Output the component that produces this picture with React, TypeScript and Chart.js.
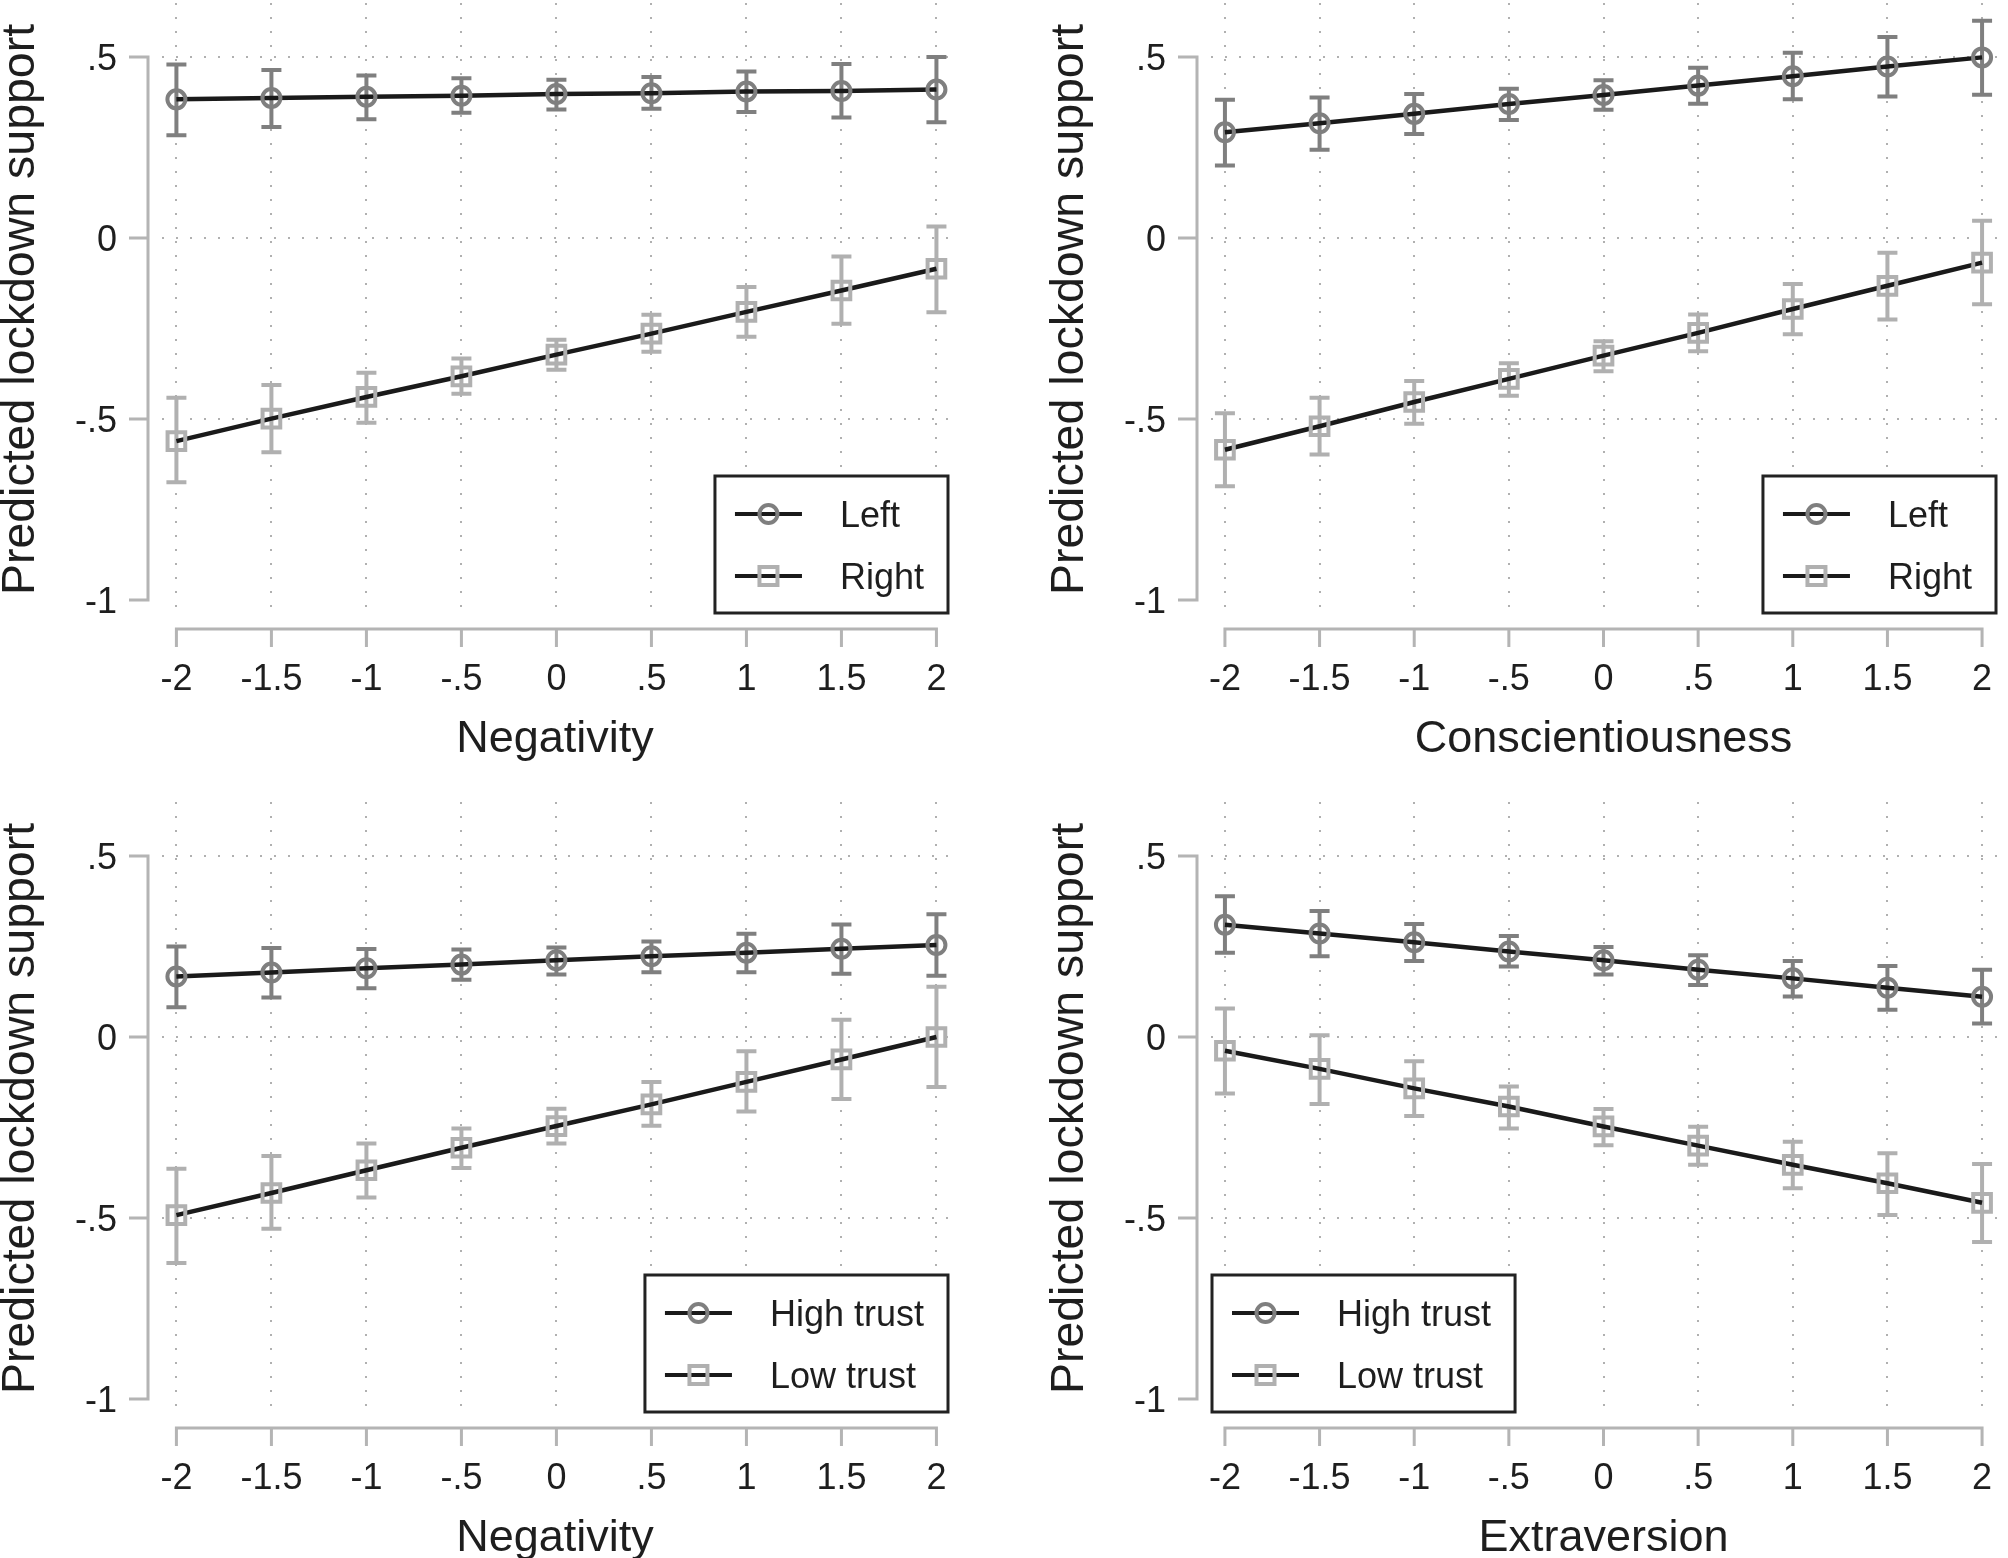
import { useEffect, useRef } from 'react';
import { Chart, registerables } from 'chart.js';

Chart.register(...registerables);

// shared axes
const xValues = [-2, -1.5, -1, -0.5, 0, 0.5, 1, 1.5, 2];
const yTicks = [0.5, 0, -0.5, -1];
const yGridTicks = [0.5, 0, -0.5];

// Negativity x ideology
const negLeft = [0.383, 0.387, 0.39, 0.393, 0.398, 0.4, 0.405, 0.406, 0.41];
const negLeftLo = [0.284, 0.307, 0.328, 0.346, 0.355, 0.357, 0.348, 0.333, 0.32];
const negLeftHi = [0.479, 0.464, 0.449, 0.441, 0.437, 0.445, 0.46, 0.481, 0.5];
const negRight = [-0.561, -0.499, -0.439, -0.382, -0.322, -0.264, -0.204, -0.145, -0.085];
const negRightLo = [-0.675, -0.592, -0.51, -0.43, -0.364, -0.314, -0.273, -0.237, -0.205];
const negRightHi = [-0.441, -0.406, -0.372, -0.333, -0.281, -0.212, -0.135, -0.051, 0.032];

// Conscientiousness x ideology
const conLeft = [0.292, 0.317, 0.343, 0.37, 0.395, 0.421, 0.447, 0.474, 0.499];
const conLeftLo = [0.2, 0.244, 0.287, 0.326, 0.354, 0.371, 0.383, 0.391, 0.396];
const conLeftHi = [0.382, 0.388, 0.398, 0.412, 0.436, 0.47, 0.512, 0.555, 0.6];
const conRight = [-0.585, -0.52, -0.453, -0.389, -0.325, -0.262, -0.196, -0.132, -0.068];
const conRightLo = [-0.686, -0.598, -0.513, -0.436, -0.368, -0.313, -0.266, -0.225, -0.183];
const conRightHi = [-0.484, -0.441, -0.395, -0.346, -0.285, -0.211, -0.127, -0.041, 0.048];

// Negativity x trust
const negHigh = [0.167, 0.178, 0.19, 0.2, 0.212, 0.223, 0.233, 0.244, 0.254];
const negHighLo = [0.082, 0.109, 0.135, 0.158, 0.173, 0.179, 0.179, 0.175, 0.169];
const negHighHi = [0.25, 0.246, 0.243, 0.242, 0.247, 0.264, 0.285, 0.311, 0.339];
const negLow = [-0.492, -0.431, -0.368, -0.306, -0.246, -0.186, -0.124, -0.062, 0.0];
const negLowLo = [-0.624, -0.53, -0.443, -0.362, -0.294, -0.245, -0.206, -0.171, -0.138];
const negLowHi = [-0.364, -0.329, -0.294, -0.253, -0.198, -0.124, -0.039, 0.048, 0.139];

// Extraversion x trust
const extHigh = [0.31, 0.286, 0.262, 0.236, 0.212, 0.186, 0.162, 0.136, 0.111];
const extHighLo = [0.233, 0.223, 0.21, 0.195, 0.173, 0.144, 0.112, 0.075, 0.037];
const extHighHi = [0.389, 0.348, 0.312, 0.279, 0.249, 0.226, 0.21, 0.196, 0.186];
const extLow = [-0.038, -0.088, -0.142, -0.192, -0.247, -0.3, -0.353, -0.404, -0.458];
const extLowLo = [-0.156, -0.185, -0.218, -0.253, -0.299, -0.353, -0.418, -0.492, -0.566];
const extLowHi = [0.079, 0.005, -0.067, -0.137, -0.199, -0.248, -0.289, -0.321, -0.351];

const ideologyLabels = ['Left', 'Right'];
const trustLabels = ['High trust', 'Low trust'];
const yTitle = 'Predicted lockdown support';

const FONT = '"Liberation Sans", Arial, sans-serif';
const TEXT = '#1e1e1e';
const AXIS = '#b4b4b4';
const GRID = '#b0b0b0';
const LINE = '#1a1a1a';
const DARK = '#7f7f7f';
const LIGHT = '#b0b0b0';

const fmt = (v: number) => (v === 0 ? '0' : String(v).replace('0.', '.'));

const stataPlugin = {
  id: 'stata',
  beforeDatasetsDraw(chart: any) {
    const { ctx, chartArea: a } = chart;
    const { x, y } = chart.scales;
    ctx.save();
    // dotted grid
    ctx.strokeStyle = GRID;
    ctx.lineWidth = 2;
    ctx.setLineDash([2, 12]);
    xValues.forEach((v) => {
      const px = Math.round(x.getPixelForValue(v));
      ctx.beginPath();
      ctx.moveTo(px, a.top + 3);
      ctx.lineTo(px, a.bottom);
      ctx.stroke();
    });
    yGridTicks.forEach((v) => {
      const py = Math.round(y.getPixelForValue(v));
      ctx.beginPath();
      ctx.moveTo(a.left + 12, py);
      ctx.lineTo(a.right, py);
      ctx.stroke();
    });
    ctx.setLineDash([]);
    // error bars (rcap)
    chart.data.datasets.forEach((ds: any) => {
      ctx.strokeStyle = ds.pointBorderColor;
      ctx.lineWidth = 4;
      ds.data.forEach((pt: any, i: number) => {
        const px = x.getPixelForValue(pt.x);
        const lo = y.getPixelForValue(ds.errLow[i]);
        const hi = y.getPixelForValue(ds.errHigh[i]);
        ctx.beginPath();
        ctx.moveTo(px, lo);
        ctx.lineTo(px, hi);
        ctx.moveTo(px - 10, lo);
        ctx.lineTo(px + 10, lo);
        ctx.moveTo(px - 10, hi);
        ctx.lineTo(px + 10, hi);
        ctx.stroke();
      });
    });
    ctx.restore();
  },
  afterDraw(chart: any, _args: any, opts: any) {
    const { ctx, chartArea: a } = chart;
    const { x, y } = chart.scales;
    ctx.save();

    // y axis
    const ax = a.left - 2;
    ctx.strokeStyle = AXIS;
    ctx.lineWidth = 3;
    ctx.beginPath();
    ctx.moveTo(ax, y.getPixelForValue(yTicks[0]));
    ctx.lineTo(ax, y.getPixelForValue(yTicks[yTicks.length - 1]));
    yTicks.forEach((v) => {
      const py = y.getPixelForValue(v);
      ctx.moveTo(ax - 19, py);
      ctx.lineTo(ax + 1.5, py);
    });
    ctx.stroke();

    // x axis, offset below the plot region
    const ay = a.bottom + 14;
    ctx.beginPath();
    ctx.moveTo(x.getPixelForValue(xValues[0]), ay);
    ctx.lineTo(x.getPixelForValue(xValues[xValues.length - 1]), ay);
    xValues.forEach((v) => {
      const px = x.getPixelForValue(v);
      ctx.moveTo(px, ay - 1.5);
      ctx.lineTo(px, ay + 18);
    });
    ctx.stroke();

    // tick labels
    ctx.fillStyle = TEXT;
    ctx.font = `36px ${FONT}`;
    ctx.textAlign = 'right';
    ctx.textBaseline = 'middle';
    yTicks.forEach((v) => ctx.fillText(fmt(v), ax - 31, y.getPixelForValue(v) + 3));
    ctx.textAlign = 'center';
    ctx.textBaseline = 'alphabetic';
    xValues.forEach((v) => ctx.fillText(fmt(v), x.getPixelForValue(v), a.bottom + 75));

    // axis titles
    ctx.font = `45px ${FONT}`;
    ctx.fillText(opts.xTitle, (a.left + a.right) / 2, a.bottom + 137);
    ctx.save();
    ctx.font = `46.5px ${FONT}`;
    ctx.translate(34, (a.top + a.bottom) / 2 + 2);
    ctx.rotate(-Math.PI / 2);
    ctx.fillText(yTitle, 0, 0);
    ctx.restore();

    // legend box
    ctx.font = `36px ${FONT}`;
    const labels = chart.data.datasets.map((d: any) => d.label);
    const textW = Math.max(...labels.map((l: string) => ctx.measureText(l).width));
    const boxW = 20 + 67 + 38 + textW + 24;
    const boxH = 137;
    const boxTop = a.bottom - 139;
    const boxLeft = opts.legendSide === 'left' ? a.left + 13 : a.right - 12 - boxW;
    ctx.fillStyle = '#ffffff';
    ctx.fillRect(boxLeft, boxTop, boxW, boxH);
    ctx.strokeStyle = '#222222';
    ctx.lineWidth = 3;
    ctx.strokeRect(boxLeft, boxTop, boxW, boxH);
    chart.data.datasets.forEach((ds: any, i: number) => {
      const ry = boxTop + 38 + i * 62;
      const lx = boxLeft + 20;
      ctx.strokeStyle = LINE;
      ctx.lineWidth = 4;
      ctx.beginPath();
      ctx.moveTo(lx, ry);
      ctx.lineTo(lx + 67, ry);
      ctx.stroke();
      ctx.strokeStyle = ds.pointBorderColor;
      ctx.beginPath();
      if (ds.pointStyle === 'rect') {
        ctx.rect(lx + 33.5 - 9, ry - 9, 18, 18);
      } else {
        ctx.arc(lx + 33.5, ry, 9, 0, Math.PI * 2);
      }
      ctx.stroke();
      ctx.fillStyle = TEXT;
      ctx.textAlign = 'left';
      ctx.textBaseline = 'middle';
      ctx.fillText(ds.label, lx + 67 + 38, ry + 3);
    });

    ctx.restore();
  },
};

function series(label: string, mid: number[], lo: number[], hi: number[], square: boolean) {
  return {
    label,
    data: xValues.map((v, i) => ({ x: v, y: mid[i] })),
    errLow: lo,
    errHigh: hi,
    borderColor: LINE,
    borderWidth: 4.5,
    pointStyle: square ? 'rect' : 'circle',
    pointRadius: square ? 12.5 : 9,
    pointBorderWidth: 4,
    pointBorderColor: square ? LIGHT : DARK,
    pointBackgroundColor: 'rgba(0,0,0,0)',
    tension: 0,
    clip: false,
  };
}

interface PanelProps {
  left: number;
  top: number;
  width: number;
  height: number;
  xMin: number;
  xMax: number;
  xTitle: string;
  legendSide: 'left' | 'right';
  datasets: any[];
}

function Panel({ left, top, width, height, xMin, xMax, xTitle, legendSide, datasets }: PanelProps) {
  const canvasRef = useRef<HTMLCanvasElement>(null);

  useEffect(() => {
    if (!canvasRef.current) return;
    const plotWidth = width > 1000 ? 810 : 809;
    const chart = new Chart(canvasRef.current, {
      type: 'line',
      data: { datasets },
      options: {
        responsive: false,
        devicePixelRatio: 1,
        animation: false,
        events: [],
        layout: {
          autoPadding: false,
          padding: { left: 150, top: 0, right: width - 150 - plotWidth, bottom: height - 615 },
        },
        scales: {
          x: { type: 'linear', display: false, min: xMin, max: xMax },
          y: { type: 'linear', display: false, min: -1.0414, max: 0.6575 },
        },
        plugins: {
          legend: { display: false },
          tooltip: { enabled: false },
          stata: { xTitle, legendSide },
        } as any,
      },
      plugins: [stataPlugin],
    });
    return () => chart.destroy();
  }, []);

  return (
    <canvas
      ref={canvasRef}
      width={width}
      height={height}
      style={{ position: 'absolute', left, top, width, height, display: 'block' }}
    />
  );
}

export default function App() {
  return (
    <div
      style={{
        position: 'absolute',
        left: 0,
        top: 0,
        width: 2008,
        height: 1558,
        overflow: 'hidden',
        background: '#ffffff',
      }}
    >
      <Panel
        left={0}
        top={0}
        width={1049}
        height={799}
        xMin={-2.139}
        xMax={2.124}
        xTitle="Negativity"
        legendSide="right"
        datasets={[
          series(ideologyLabels[0], negLeft, negLeftLo, negLeftHi, false),
          series(ideologyLabels[1], negRight, negRightLo, negRightHi, true),
        ]}
      />
      <Panel
        left={1049}
        top={0}
        width={959}
        height={799}
        xMin={-2.137}
        xMax={2.137}
        xTitle="Conscientiousness"
        legendSide="right"
        datasets={[
          series(ideologyLabels[0], conLeft, conLeftLo, conLeftHi, false),
          series(ideologyLabels[1], conRight, conRightLo, conRightHi, true),
        ]}
      />
      <Panel
        left={0}
        top={799}
        width={1049}
        height={759}
        xMin={-2.139}
        xMax={2.124}
        xTitle="Negativity"
        legendSide="right"
        datasets={[
          series(trustLabels[0], negHigh, negHighLo, negHighHi, false),
          series(trustLabels[1], negLow, negLowLo, negLowHi, true),
        ]}
      />
      <Panel
        left={1049}
        top={799}
        width={959}
        height={759}
        xMin={-2.137}
        xMax={2.137}
        xTitle="Extraversion"
        legendSide="left"
        datasets={[
          series(trustLabels[0], extHigh, extHighLo, extHighHi, false),
          series(trustLabels[1], extLow, extLowLo, extLowHi, true),
        ]}
      />
    </div>
  );
}
